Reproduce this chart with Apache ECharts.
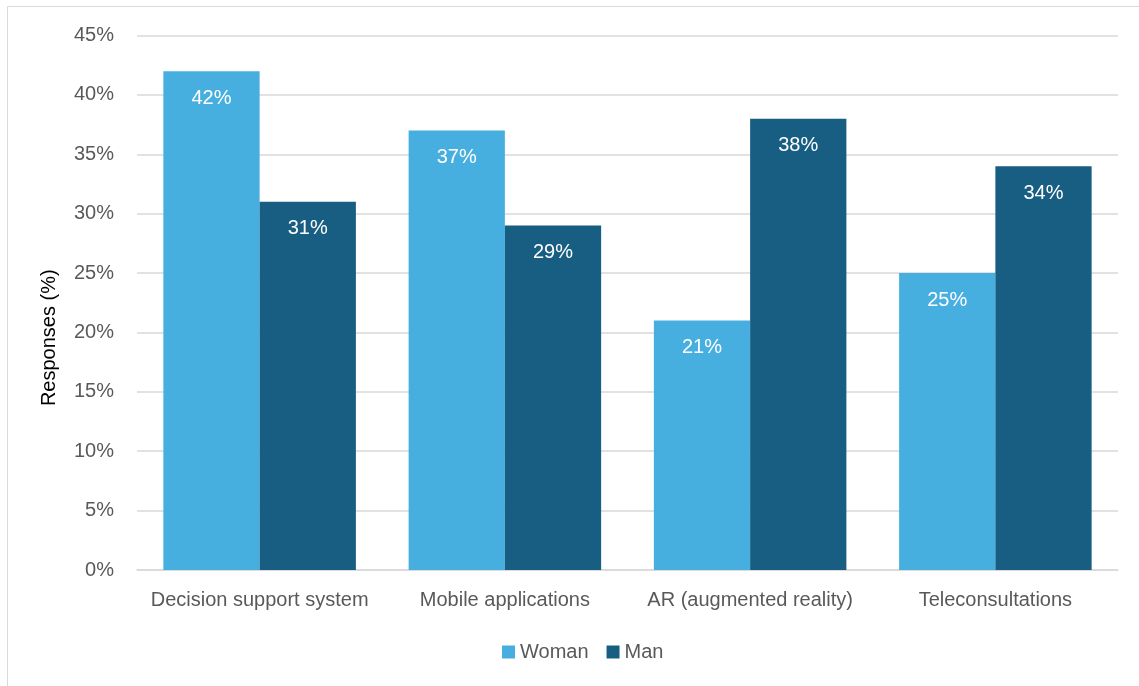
<!DOCTYPE html>
<html><head><meta charset="utf-8">
<script src="https://cdn.jsdelivr.net/npm/echarts@6/dist/echarts.min.js"></script>
<style>html,body{margin:0;padding:0;background:#fff}#c{width:1139px;height:686px}</style>
</head><body><div id="c"></div>
<script>
const categories = ["Decision support system", "Mobile applications", "AR (augmented reality)", "Teleconsultations"];
const womanValues = [42, 37, 21, 25];
const manValues = [31, 29, 38, 34];
const yTicks = [0, 5, 10, 15, 20, 25, 30, 35, 40, 45];

const chart = echarts.init(document.getElementById('c'));
const font = "'Liberation Sans', Arial, sans-serif";
const fs = 20;
const lbl = {show: true, position: 'insideTop', distance: 17, color: '#fff', fontSize: fs, fontFamily: font, formatter: p => p.value + '%'};
chart.setOption({
  animation: false,
  graphic: [{type: 'rect', shape: {x: 7.5, y: 6.5, width: 1140, height: 690}, style: {fill: 'none', stroke: '#d9d9d9', lineWidth: 1}}],
  grid: {left: 137, right: 21, top: 35.5, bottom: 116},
  legend: {bottom: 19, left: 497, itemWidth: 13, itemHeight: 13, itemGap: 18, icon: 'rect',
    textStyle: {fontSize: fs, color: '#595959', fontFamily: font}, data: ['Woman', 'Man']},
  xAxis: {type: 'category', data: categories,
    axisLine: {lineStyle: {color: '#d9d9d9', width: 1.5}}, axisTick: {show: false},
    axisLabel: {interval: 0, fontSize: fs, color: '#595959', fontFamily: font, margin: 20}},
  yAxis: {type: 'value', min: yTicks[0], max: yTicks[yTicks.length - 1], interval: 5,
    name: 'Responses (%)', nameLocation: 'middle', nameGap: 78, nameRotate: 90,
    nameTextStyle: {fontSize: fs, color: '#000', fontFamily: font, padding: [0, 70, 0, 0]},
    axisLine: {show: false}, axisTick: {show: false},
    splitLine: {lineStyle: {color: '#d9d9d9', width: 1.5}},
    axisLabel: {fontSize: fs, color: '#595959', fontFamily: font, margin: 23, formatter: v => v + '%'}},
  series: [
    {name: 'Woman', type: 'bar', data: womanValues, barGap: '0%', barCategoryGap: '21.5%', itemStyle: {color: '#47AFE0'}, label: lbl},
    {name: 'Man', type: 'bar', data: manValues, itemStyle: {color: '#175E82'}, label: lbl}
  ]
});
</script></body></html>
